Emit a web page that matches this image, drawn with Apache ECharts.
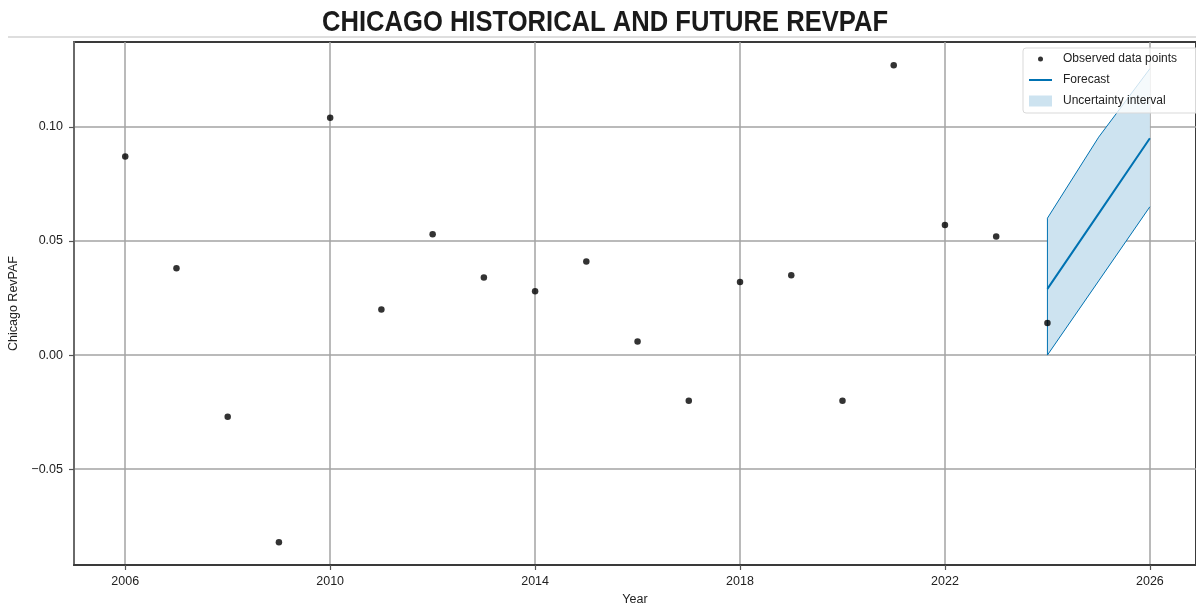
<!DOCTYPE html>
<html>
<head>
<meta charset="utf-8">
<style>
  html, body { margin: 0; padding: 0; background: #fff; }
  #chart { width: 1196px; height: 608px; }
</style>
<script src="https://cdn.jsdelivr.net/npm/echarts@6/dist/echarts.min.js"></script>
</head>
<body>
<div id="chart"></div>
<script>
// Observed Chicago RevPAF growth by year
const years = [2006, 2007, 2008, 2009, 2010, 2011, 2012, 2013, 2014, 2015,
               2016, 2017, 2018, 2019, 2020, 2021, 2022, 2023, 2024];
const observed = [0.087, 0.038, -0.027, -0.082, 0.104, 0.020, 0.053, 0.034, 0.028, 0.041,
                  0.006, -0.020, 0.032, 0.035, -0.020, 0.127, 0.057, 0.052, 0.014];

// Forecast and its uncertainty band
const forecastYears = [2024, 2025, 2026];
const forecast = [0.029, 0.062, 0.095];
const upperBound = [0.060, 0.0955, 0.1255];
const lowerBound = [0.000, 0.0325, 0.065];

// Axis ticks
const xTicks = [2006, 2010, 2014, 2018, 2022, 2026];
const yTicks = [-0.05, 0.00, 0.05, 0.10];

const TITLE = 'CHICAGO HISTORICAL AND FUTURE REVPAF';
const BLUE = '#0072B2';
const FILL = '#cde3f0';
const FONT = '"Liberation Sans", Arial, sans-serif';

const obsData = years.map((y, i) => [y, observed[i]]);
const fcData = forecastYears.map((y, i) => [y, forecast[i]]);
const bandData = forecastYears.map((y, i) => [y, lowerBound[i], upperBound[i]]);

function fmtY(v) {
  const s = Math.abs(v).toFixed(2);
  return v < 0 ? '\u2212' + s : s;
}

// Condensed heading: measure the bold face and squeeze it horizontally
const TITLE_FONT = 'bold 30px "Liberation Sans", Arial, sans-serif';
const TITLE_WIDTH = 566;
const ctx = document.createElement('canvas').getContext('2d');
ctx.font = TITLE_FONT;
const titleScale = TITLE_WIDTH / ctx.measureText(TITLE).width;

const chart = echarts.init(document.getElementById('chart'), null, { renderer: 'canvas' });

chart.setOption({
  animation: false,
  backgroundColor: '#fff',
  graphic: [
    {
      type: 'text',
      x: 605,
      y: 23,
      scaleX: titleScale,
      scaleY: 1,
      style: {
        text: TITLE,
        font: TITLE_FONT,
        fill: '#1a1a1a',
        textAlign: 'center',
        textVerticalAlign: 'middle'
      },
      z: 10
    },
    {
      type: 'line',
      shape: { x1: 8, y1: 37, x2: 1196, y2: 37 },
      style: { stroke: '#bdbdbd', lineWidth: 1 },
      z: 10
    }
  ],
  legend: {
    orient: 'vertical',
    left: 1023,
    top: 48,
    padding: [5, 24, 6, 6],
    itemGap: 9,
    itemWidth: 23,
    itemHeight: 11,
    backgroundColor: 'rgba(255,255,255,0.8)',
    borderColor: '#d9d9d9',
    borderWidth: 1,
    borderRadius: 3,
    textStyle: {
      fontFamily: FONT,
      fontSize: 12,
      color: '#222',
      padding: [0, 0, 0, 6]
    },
    data: [
      { name: 'Observed data points',
        icon: 'path://M0,0M23,11M9,5.5A2.5,2.5,0,1,1,14,5.5A2.5,2.5,0,1,1,9,5.5Z',
        itemStyle: { color: '#000' } },
      { name: 'Forecast',
        icon: 'path://M0,0M23,11M0,4.5L23,4.5L23,6.5L0,6.5Z',
        itemStyle: { color: BLUE } },
      { name: 'Uncertainty interval', icon: 'rect',
        itemStyle: { color: FILL } }
    ]
  },
  grid: {
    left: 74, right: 0, top: 42, bottom: 43,
    outerBoundsMode: 'none',
    containLabel: false,
    show: true,
    borderColor: '#3a3a3a',
    borderWidth: 2,
    backgroundColor: 'transparent'
  },
  xAxis: {
    type: 'value',
    min: 2005.0,
    max: 2026.9,
    name: 'Year',
    nameLocation: 'middle',
    nameGap: 27,
    nameTextStyle: { fontFamily: FONT, fontSize: 12.5, color: '#222' },
    axisLine: { show: true, onZero: false, lineStyle: { color: '#3a3a3a', width: 2 } },
    axisTick: { show: true, customValues: xTicks, length: 5, lineStyle: { color: '#555', width: 1.2 } },
    axisLabel: {
      customValues: xTicks,
      margin: 10,
      fontFamily: FONT,
      fontSize: 12.5,
      color: '#222',
      formatter: v => String(v)
    },
    splitLine: { show: true, lineStyle: { color: '#a3a3a3', width: 1.5 } }
  },
  yAxis: {
    type: 'value',
    min: -0.092,
    max: 0.1372,
    name: 'Chicago RevPAF',
    nameLocation: 'middle',
    nameGap: 46,
    nameTextStyle: { fontFamily: FONT, fontSize: 12.5, color: '#222' },
    axisLine: { show: true, onZero: false, lineStyle: { color: '#6a6a6a', width: 2 } },
    axisTick: { show: true, customValues: yTicks, length: 5, lineStyle: { color: '#555', width: 1.2 } },
    axisLabel: {
      customValues: yTicks,
      margin: 11,
      fontFamily: FONT,
      fontSize: 12.5,
      color: '#222',
      formatter: fmtY
    },
    splitLine: { show: true, lineStyle: { color: '#a3a3a3', width: 1.5 } }
  },
  series: [
    {
      name: 'Uncertainty interval',
      type: 'custom',
      data: bandData,
      itemStyle: { color: FILL },
      z: 2,
      renderItem: function (params, api) {
        if (params.dataIndex !== 0) return null;
        const lower = bandData.map(d => api.coord([d[0], d[1]]));
        const upper = bandData.map(d => api.coord([d[0], d[2]]));
        const poly = lower.concat(upper.slice().reverse());
        // outline open at the far end: lower edge, left edge, upper edge
        const outline = lower.slice().reverse().concat(upper);
        return {
          type: 'group',
          children: [
            { type: 'polygon', shape: { points: poly },
              style: { fill: FILL, stroke: null } },
            { type: 'polyline', shape: { points: outline },
              style: { fill: null, stroke: BLUE, lineWidth: 1 } }
          ]
        };
      }
    },
    {
      name: 'Forecast',
      type: 'line',
      data: fcData,
      showSymbol: false,
      symbol: 'none',
      lineStyle: { color: BLUE, width: 2 },
      itemStyle: { color: BLUE },
      z: 3
    },
    {
      name: 'Observed data points',
      type: 'scatter',
      data: obsData,
      symbolSize: 6.5,
      itemStyle: { color: '#000' },
      z: 4
    }
  ]
});
</script>
</body>
</html>
